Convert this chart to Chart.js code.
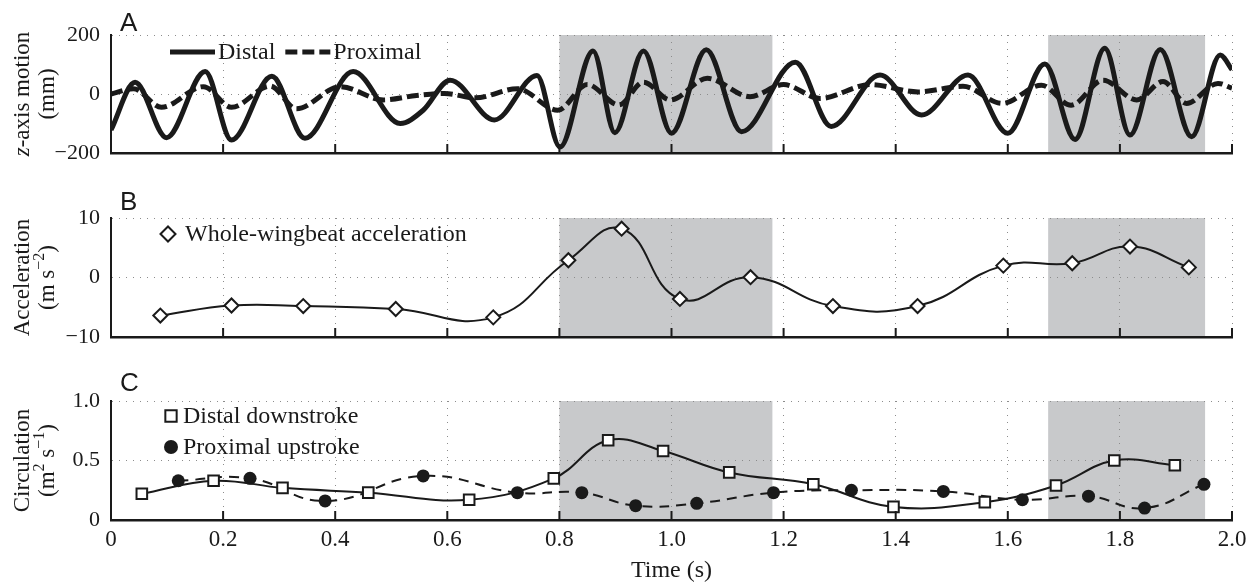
<!DOCTYPE html>
<html>
<head>
<meta charset="utf-8">
<script src="https://cdn.jsdelivr.net/npm/chart.js@4.4.1/dist/chart.umd.min.js"></script>
<style>
  html, body { margin: 0; padding: 0; background: #fff; }
  #wrap { width: 1254px; height: 585px; }
  canvas { display: block; }
</style>
</head>
<body>
<div id="wrap">
  <canvas id="panelA" width="1254" height="170"></canvas>
  <canvas id="panelB" width="1254" height="185"></canvas>
  <canvas id="panelC" width="1254" height="230"></canvas>
</div>
<script>
// shared time axis
const timeTicks = [0, 0.2, 0.4, 0.6, 0.8, 1.0, 1.2, 1.4, 1.6, 1.8, 2.0];
const shadeStart = [0.80, 1.672];
const shadeEnd = [1.180, 1.952];

// A - z-axis motion (mm)
const motionTicks = [-200, 0, 200];
const distalTime = [0.000, 0.043, 0.099, 0.168, 0.215, 0.287, 0.346, 0.432, 0.516, 0.557, 0.605, 0.684, 0.760, 0.801,
  0.860, 0.899, 0.950, 1.000, 1.062, 1.125, 1.221, 1.285, 1.372, 1.446, 1.529, 1.600, 1.666, 1.720, 1.773, 1.818,
  1.872, 1.928, 1.979, 2.000];
const distalZ = [-122, 40, -148, 76, -156, 60, -150, 76, -100, -55, 47, -88, 63, -180,
  146, -131, 146, -133, 150, -128, 108, -110, 64, -71, 64, -133, 102, -154, 155, -139,
  151, -145, 132, 82];
const proximalTime = [0.000, 0.040, 0.090, 0.165, 0.215, 0.284, 0.331, 0.409, 0.486, 0.545, 0.595, 0.650, 0.725, 0.797,
  0.850, 0.906, 0.950, 0.998, 1.064, 1.140, 1.200, 1.265, 1.355, 1.440, 1.520, 1.590, 1.660, 1.713, 1.770, 1.830,
  1.877, 1.919, 1.975, 2.000];
const proximalZ = [0, 18, -45, 25, -45, 27, -50, 25, -20, -5, 2, -13, 18, -55,
  32, -37, 40, -20, 53, -9, 32, -15, 32, 7, 26, -32, 30, -38, 47, -20,
  42, -32, 36, 20];

// B - acceleration (m s^-2)
const accelTicks = [-10, 0, 10];
const accelTime = [0.088, 0.215, 0.343, 0.508, 0.682, 0.816, 0.911, 1.015, 1.141, 1.288, 1.439, 1.592, 1.715, 1.818, 1.923];
const accelValue = [-6.4, -4.7, -4.8, -5.3, -6.7, 2.9, 8.2, -3.6, 0.05, -4.8, -4.8, 2.0, 2.4, 5.2, 1.7];

// C - circulation (m^2 s^-1)
const circTicks = [0, 0.5, 1.0];
const downTime = [0.055, 0.183, 0.306, 0.459, 0.639, 0.790, 0.887, 0.985, 1.103, 1.253, 1.396, 1.559, 1.686, 1.790, 1.898];
const downCirc = [0.22, 0.33, 0.27, 0.23, 0.17, 0.35, 0.67, 0.58, 0.40, 0.30, 0.11, 0.15, 0.29, 0.50, 0.46];
const upTime = [0.120, 0.248, 0.382, 0.557, 0.725, 0.840, 0.936, 1.045, 1.182, 1.321, 1.485, 1.626, 1.744, 1.844, 1.950];
const upCirc = [0.33, 0.35, 0.16, 0.37, 0.23, 0.23, 0.12, 0.14, 0.23, 0.25, 0.24, 0.17, 0.20, 0.10, 0.30];

// y titles: two lines each, pieces with italic / superscript flags
const motionTitle = [[{ t: 'z', it: true }, { t: '-axis motion' }], [{ t: '(mm)' }]];
const accelTitle = [[{ t: 'Acceleration' }], [{ t: '(m s' }, { t: '\u22122', sup: true }, { t: ')' }]];
const circTitle = [[{ t: 'Circulation' }], [{ t: '(m' }, { t: '2', sup: true }, { t: ' s' }, { t: '\u22121', sup: true }, { t: ')' }]];

const ink = '#1a1a1a';
const gridColor = '#8c8c8c';
const serif = '"Liberation Serif", "Times New Roman", serif';

Chart.defaults.font.family = serif;
Chart.defaults.font.size = 22;
Chart.defaults.color = ink;

function pts(xs, ys) {
  return xs.map((x, i) => ({ x: x, y: ys[i] }));
}

function minusSign(v) {
  return v < 0 ? '\u2212' + Math.abs(v) : String(v);
}

function drawTitleLine(ctx, pieces, size) {
  const fontOf = p => (p.it ? 'italic ' : '') + (p.sup ? Math.round(size * 0.68) : size) + 'px ' + serif;
  let total = 0;
  pieces.forEach(p => { ctx.font = fontOf(p); total += ctx.measureText(p.t).width; });
  let x = -total / 2;
  pieces.forEach(p => {
    ctx.font = fontOf(p);
    ctx.fillText(p.t, x, p.sup ? -size * 0.36 : 0);
    x += ctx.measureText(p.t).width;
  });
}

// shading, inward ticks, panel letter, y title and the legend drawn inside the plot
const panelDecor = {
  id: 'panelDecor',
  beforeDraw(chart) {
    const { ctx, chartArea: a, scales: { x } } = chart;
    ctx.save();
    ctx.fillStyle = '#c8c9cb';
    shadeStart.forEach((s, i) => {
      const x0 = x.getPixelForValue(s), x1 = x.getPixelForValue(shadeEnd[i]);
      ctx.fillRect(x0, a.top, x1 - x0, a.bottom - a.top);
    });
    ctx.restore();
  },
  afterDraw(chart, args, opts) {
    const { ctx, chartArea: a, scales: { x } } = chart;
    ctx.save();
    ctx.strokeStyle = ink;
    ctx.lineWidth = 2;
    ctx.beginPath();
    x.ticks.forEach(t => {
      const px = x.getPixelForValue(t.value);
      ctx.moveTo(px, a.bottom);
      ctx.lineTo(px, a.bottom - 9);
    });
    ctx.stroke();

    ctx.fillStyle = ink;
    ctx.font = '26px "Liberation Sans", Arial, sans-serif';
    ctx.textBaseline = 'alphabetic';
    ctx.fillText(opts.letter, a.left + 9, a.top - opts.letterGap);

    // rotated y title
    ctx.textBaseline = 'middle';
    opts.title.forEach((line, i) => {
      ctx.save();
      ctx.translate(23 + i * 25, (a.top + a.bottom) / 2);
      ctx.rotate(-Math.PI / 2);
      drawTitleLine(ctx, line, 23);
      ctx.restore();
    });

    const lg = opts.legend;
    ctx.font = '24px ' + serif;
    let lx = a.left + lg.x, ly = a.top + lg.y;
    chart.data.datasets.forEach(ds => {
      if (lg.kind === 'line') {
        ctx.setLineDash(ds.borderDash || []);
        ctx.lineWidth = ds.borderWidth;
        ctx.strokeStyle = ds.borderColor;
        ctx.beginPath();
        ctx.moveTo(lx, ly);
        ctx.lineTo(lx + 45, ly);
        ctx.stroke();
        ctx.setLineDash([]);
        ctx.fillStyle = ink;
        ctx.fillText(ds.label, lx + 48, ly + 1);
        lx += 48 + ctx.measureText(ds.label).width + 10;
      } else {
        ctx.fillStyle = ds.pointBackgroundColor;
        ctx.strokeStyle = ds.pointBorderColor;
        ctx.lineWidth = ds.pointBorderWidth;
        Chart.helpers.drawPoint(ctx, { pointStyle: ds.pointStyle, radius: ds.pointRadius + 0.5, borderWidth: ds.pointBorderWidth }, lx, ly);
        ctx.fillStyle = ink;
        ctx.fillText(ds.label, lx + lg.textGap, ly + 1);
        ly += lg.rowGap;
      }
    });
    ctx.restore();
  }
};

function panelOptions(cfg) {
  return {
    responsive: false,
    animation: false,
    layout: { padding: { top: cfg.top, right: 22, left: 0, bottom: 0 } },
    plugins: {
      legend: { display: false },
      tooltip: { enabled: false },
      panelDecor: cfg.decor
    },
    scales: {
      x: {
        type: 'linear', min: 0, max: 2,
        afterBuildTicks: s => { s.ticks = timeTicks.map(v => ({ value: v })); },
        afterFit: s => { s.height = cfg.xHeight; },
        grid: { color: gridColor, lineWidth: 1, drawTicks: false },
        border: { color: ink, width: 2.5, dash: [1, 6] },
        ticks: { display: cfg.xLabels, padding: 6, maxRotation: 0, autoSkip: false, font: { size: 23 },
          callback: v => v === 0 ? '0' : v.toFixed(1) },
        title: { display: cfg.xLabels, text: 'Time (s)', padding: 0, font: { size: 24 } }
      },
      y: {
        min: cfg.yTicks[0], max: cfg.yTicks[cfg.yTicks.length - 1],
        afterBuildTicks: s => { s.ticks = cfg.yTicks.map(v => ({ value: v })); },
        afterFit: s => { s.width = 111; s.paddingTop = 0; s.paddingBottom = 0; },
        grid: { color: gridColor, lineWidth: 1, drawTicks: false },
        border: { color: ink, width: 2, dash: [1, 6] },
        ticks: { padding: 11, callback: cfg.yFormat }
      }
    }
  };
}

new Chart(document.getElementById('panelA'), {
  type: 'line',
  data: {
    datasets: [{
      label: 'Distal',
      data: pts(distalTime, distalZ),
      borderColor: ink, borderWidth: 5, pointRadius: 0,
      cubicInterpolationMode: 'monotone', borderJoinStyle: 'round'
    }, {
      label: 'Proximal',
      data: pts(proximalTime, proximalZ),
      borderColor: ink, borderWidth: 5, borderDash: [12, 5], pointRadius: 0,
      cubicInterpolationMode: 'monotone'
    }]
  },
  options: panelOptions({
    top: 35, xHeight: 17, xLabels: false,
    yTicks: motionTicks, yFormat: minusSign,
    decor: { letter: 'A', letterGap: 4, title: motionTitle, legend: { kind: 'line', x: 59, y: 17 } }
  }),
  plugins: [panelDecor]
});

new Chart(document.getElementById('panelB'), {
  type: 'line',
  data: {
    datasets: [{
      label: 'Whole-wingbeat acceleration',
      data: pts(accelTime, accelValue),
      borderColor: ink, borderWidth: 2, tension: 0.45,
      pointStyle: 'rectRot', pointRadius: 7,
      pointBackgroundColor: '#fff', pointBorderColor: ink, pointBorderWidth: 2
    }]
  },
  options: panelOptions({
    top: 48, xHeight: 18, xLabels: false,
    yTicks: accelTicks, yFormat: minusSign,
    decor: { letter: 'B', letterGap: 8, title: accelTitle, legend: { kind: 'point', x: 57, y: 16, textGap: 17, rowGap: 31 } }
  }),
  plugins: [panelDecor]
});

new Chart(document.getElementById('panelC'), {
  type: 'line',
  data: {
    datasets: [{
      label: 'Distal downstroke',
      data: pts(downTime, downCirc),
      borderColor: ink, borderWidth: 2, tension: 0.4,
      pointStyle: 'rect', pointRadius: 7.5,
      pointBackgroundColor: '#fff', pointBorderColor: ink, pointBorderWidth: 2
    }, {
      label: 'Proximal upstroke',
      data: pts(upTime, upCirc),
      borderColor: ink, borderWidth: 2, borderDash: [10, 7], tension: 0.45,
      pointStyle: 'circle', pointRadius: 6.5,
      pointBackgroundColor: ink, pointBorderColor: ink, pointBorderWidth: 0
    }]
  },
  options: panelOptions({
    top: 46, xHeight: 65, xLabels: true,
    yTicks: circTicks, yFormat: v => v === 0 ? '0' : v.toFixed(1),
    decor: { letter: 'C', letterGap: 10, title: circTitle, legend: { kind: 'point', x: 60, y: 15, textGap: 12, rowGap: 31 } }
  }),
  plugins: [panelDecor]
});
</script>
</body>
</html>
